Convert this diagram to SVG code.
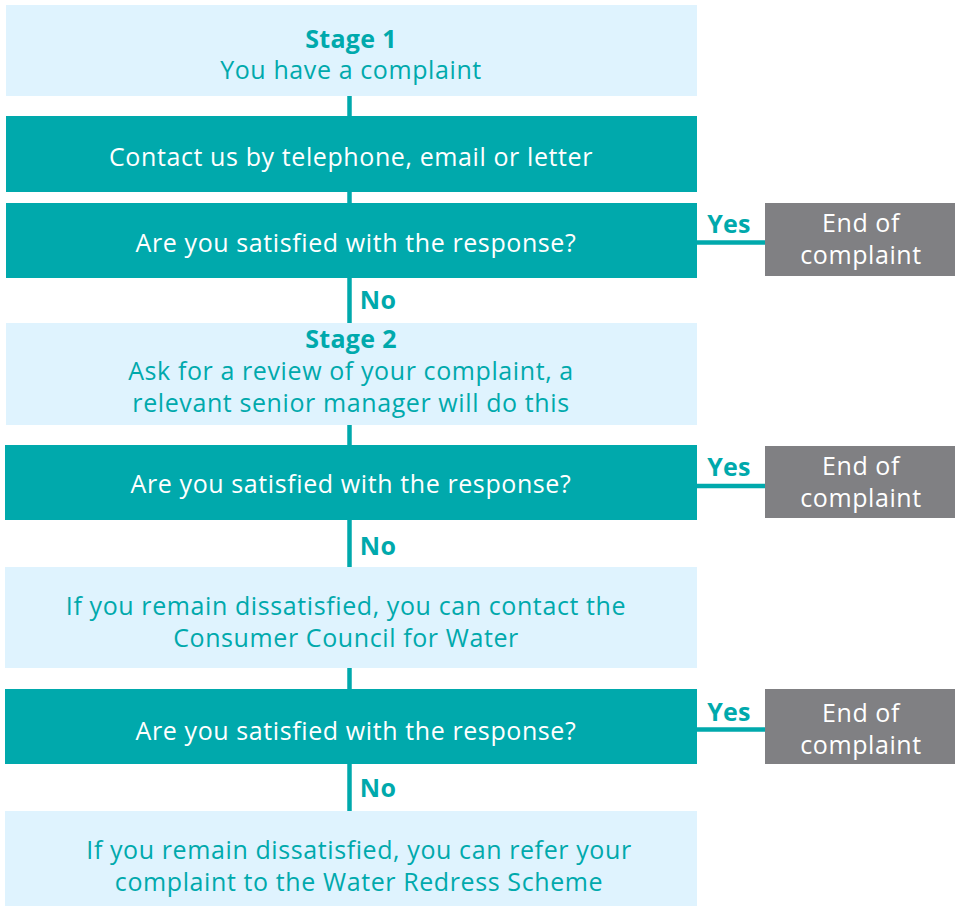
<svg xmlns="http://www.w3.org/2000/svg" width="959" height="907" viewBox="0 0 959 907">
<style>
.light{fill:#dff3fe}
.teal{fill:#00a9ac}
.gray{fill:#808083}
text{font-family:"Open Sans","Noto Sans",sans-serif;font-size:25px;letter-spacing:0.6px;text-anchor:middle}
.tl{fill:#00a9ac}
.tw{fill:#ffffff}
.b{font-weight:bold;letter-spacing:0.3px}
.conn{stroke:#00a9ac;stroke-width:4.5;fill:none}
</style>
<rect width="959" height="907" fill="#ffffff"/>
<g id="connectors">
<line class="conn" x1="349.5" y1="96" x2="349.5" y2="116"/>
<line class="conn" x1="349.5" y1="192" x2="349.5" y2="203"/>
<line class="conn" x1="349.5" y1="278" x2="349.5" y2="323"/>
<line class="conn" x1="349.5" y1="425" x2="349.5" y2="445"/>
<line class="conn" x1="349.5" y1="520" x2="349.5" y2="567"/>
<line class="conn" x1="349.5" y1="668" x2="349.5" y2="689"/>
<line class="conn" x1="349.5" y1="764" x2="349.5" y2="811"/>
<line class="conn" x1="697" y1="242.5" x2="765" y2="242.5"/>
<line class="conn" x1="697" y1="486" x2="765" y2="486"/>
<line class="conn" x1="697" y1="729.5" x2="765" y2="729.5"/>
<text class="tl b" x="378" y="309">No</text>
<text class="tl b" x="378" y="555">No</text>
<text class="tl b" x="378" y="797">No</text>
<text class="tl b" x="729" y="233">Yes</text>
<text class="tl b" x="729" y="476">Yes</text>
<text class="tl b" x="729" y="721">Yes</text>
</g>
<g id="stage1">
<rect class="light" x="6" y="5" width="691" height="91"/>
<text class="tl b" x="351" y="48">Stage 1</text>
<text class="tl" x="351" y="79">You have a complaint</text>
</g>
<g id="contact">
<rect class="teal" x="6" y="116" width="691" height="76"/>
<text class="tw" x="351" y="166">Contact us by telephone, email or letter</text>
</g>
<g id="satisfied1">
<rect class="teal" x="6" y="203" width="691" height="75"/>
<text class="tw" x="356" y="252">Are you satisfied with the response?</text>
</g>
<g id="end1">
<rect class="gray" x="765" y="203" width="190" height="73"/>
<text class="tw" x="861" y="232">End of</text>
<text class="tw" x="861" y="264">complaint</text>
</g>
<g id="stage2">
<rect class="light" x="6" y="323" width="691" height="102"/>
<text class="tl b" x="351" y="348">Stage 2</text>
<text class="tl" x="351" y="380">Ask for a review of your complaint, a</text>
<text class="tl" x="351" y="412">relevant senior manager will do this</text>
</g>
<g id="satisfied2">
<rect class="teal" x="5" y="445" width="692" height="75"/>
<text class="tw" x="351" y="493">Are you satisfied with the response?</text>
</g>
<g id="end2">
<rect class="gray" x="765" y="446" width="190" height="72"/>
<text class="tw" x="861" y="475">End of</text>
<text class="tw" x="861" y="507">complaint</text>
</g>
<g id="ccw">
<rect class="light" x="5" y="567" width="692" height="101"/>
<text class="tl" x="346" y="615">If you remain dissatisfied, you can contact the</text>
<text class="tl" x="346" y="647">Consumer Council for Water</text>
</g>
<g id="satisfied3">
<rect class="teal" x="5" y="689" width="692" height="75"/>
<text class="tw" x="356" y="740">Are you satisfied with the response?</text>
</g>
<g id="end3">
<rect class="gray" x="765" y="689" width="190" height="75"/>
<text class="tw" x="861" y="722">End of</text>
<text class="tw" x="861" y="754">complaint</text>
</g>
<g id="wrs">
<rect class="light" x="5" y="811" width="692" height="95"/>
<text class="tl" x="359" y="859">If you remain dissatisfied, you can refer your</text>
<text class="tl" x="359" y="891">complaint to the Water Redress Scheme</text>
</g>
</svg>
